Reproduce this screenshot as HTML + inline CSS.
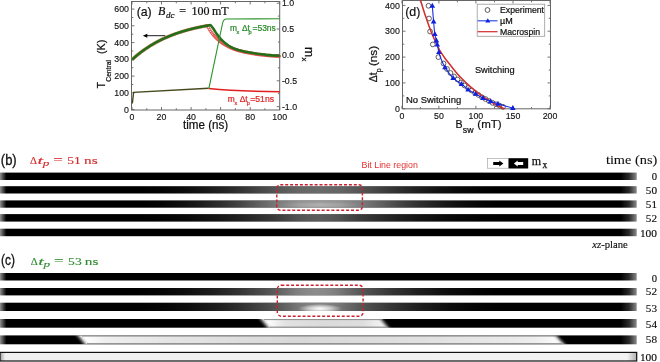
<!DOCTYPE html>
<html><head><meta charset="utf-8"><style>
html,body{margin:0;padding:0;background:#fff;width:660px;height:362px;overflow:hidden}
svg{display:block}
svg{fill:#111}
text{font-family:"Liberation Sans",sans-serif}
.tl{font-size:8.8px}
.at{font-size:12px}
.sm{font-size:8.2px}
.ser{font-family:"Liberation Serif",serif}
</style></head><body>
<svg width="660" height="362" viewBox="0 0 660 362"><g opacity="0.999">
<defs><linearGradient id="gb" gradientUnits="userSpaceOnUse" x1="0" y1="0" x2="636.7" y2="0"><stop offset="0" stop-color="#909090"/><stop offset="0.004" stop-color="#555"/><stop offset="0.01" stop-color="#000"/><stop offset="0.975" stop-color="#000"/><stop offset="0.988" stop-color="#2a2a2a"/><stop offset="1" stop-color="#8a8a8a"/></linearGradient><linearGradient id="b2" gradientUnits="userSpaceOnUse" x1="138" y1="0" x2="498" y2="0"><stop offset="0.0000" stop-color="#fff" stop-opacity="0.000"/><stop offset="0.0556" stop-color="#fff" stop-opacity="0.013"/><stop offset="0.1111" stop-color="#fff" stop-opacity="0.038"/><stop offset="0.1667" stop-color="#fff" stop-opacity="0.076"/><stop offset="0.2222" stop-color="#fff" stop-opacity="0.126"/><stop offset="0.2778" stop-color="#fff" stop-opacity="0.189"/><stop offset="0.3333" stop-color="#fff" stop-opacity="0.269"/><stop offset="0.3889" stop-color="#fff" stop-opacity="0.344"/><stop offset="0.4444" stop-color="#fff" stop-opacity="0.399"/><stop offset="0.5000" stop-color="#fff" stop-opacity="0.420"/><stop offset="0.5556" stop-color="#fff" stop-opacity="0.399"/><stop offset="0.6111" stop-color="#fff" stop-opacity="0.344"/><stop offset="0.6667" stop-color="#fff" stop-opacity="0.269"/><stop offset="0.7222" stop-color="#fff" stop-opacity="0.189"/><stop offset="0.7778" stop-color="#fff" stop-opacity="0.126"/><stop offset="0.8333" stop-color="#fff" stop-opacity="0.076"/><stop offset="0.8889" stop-color="#fff" stop-opacity="0.038"/><stop offset="0.9444" stop-color="#fff" stop-opacity="0.013"/><stop offset="1.0000" stop-color="#fff" stop-opacity="0.000"/></linearGradient><linearGradient id="b3" gradientUnits="userSpaceOnUse" x1="140" y1="0" x2="500" y2="0"><stop offset="0.0000" stop-color="#fff" stop-opacity="0.000"/><stop offset="0.0556" stop-color="#fff" stop-opacity="0.018"/><stop offset="0.1111" stop-color="#fff" stop-opacity="0.054"/><stop offset="0.1667" stop-color="#fff" stop-opacity="0.108"/><stop offset="0.2222" stop-color="#fff" stop-opacity="0.180"/><stop offset="0.2778" stop-color="#fff" stop-opacity="0.270"/><stop offset="0.3333" stop-color="#fff" stop-opacity="0.384"/><stop offset="0.3889" stop-color="#fff" stop-opacity="0.492"/><stop offset="0.4444" stop-color="#fff" stop-opacity="0.570"/><stop offset="0.5000" stop-color="#fff" stop-opacity="0.600"/><stop offset="0.5556" stop-color="#fff" stop-opacity="0.570"/><stop offset="0.6111" stop-color="#fff" stop-opacity="0.492"/><stop offset="0.6667" stop-color="#fff" stop-opacity="0.384"/><stop offset="0.7222" stop-color="#fff" stop-opacity="0.270"/><stop offset="0.7778" stop-color="#fff" stop-opacity="0.180"/><stop offset="0.8333" stop-color="#fff" stop-opacity="0.108"/><stop offset="0.8889" stop-color="#fff" stop-opacity="0.054"/><stop offset="0.9444" stop-color="#fff" stop-opacity="0.018"/><stop offset="1.0000" stop-color="#fff" stop-opacity="0.000"/></linearGradient><radialGradient id="b3r" cx="0.5" cy="0.5" r="0.5"><stop offset="0" stop-color="#fff" stop-opacity="0.25"/><stop offset="1" stop-color="#fff" stop-opacity="0"/></radialGradient><linearGradient id="b4" gradientUnits="userSpaceOnUse" x1="133" y1="0" x2="503" y2="0"><stop offset="0.0000" stop-color="#fff" stop-opacity="0.000"/><stop offset="0.0676" stop-color="#fff" stop-opacity="0.011"/><stop offset="0.1486" stop-color="#fff" stop-opacity="0.036"/><stop offset="0.2297" stop-color="#fff" stop-opacity="0.083"/><stop offset="0.2973" stop-color="#fff" stop-opacity="0.137"/><stop offset="0.3378" stop-color="#fff" stop-opacity="0.180"/><stop offset="0.3784" stop-color="#fff" stop-opacity="0.223"/><stop offset="0.4189" stop-color="#fff" stop-opacity="0.281"/><stop offset="0.4459" stop-color="#fff" stop-opacity="0.324"/><stop offset="0.4730" stop-color="#fff" stop-opacity="0.349"/><stop offset="0.5000" stop-color="#fff" stop-opacity="0.360"/><stop offset="0.5270" stop-color="#fff" stop-opacity="0.349"/><stop offset="0.5541" stop-color="#fff" stop-opacity="0.324"/><stop offset="0.5811" stop-color="#fff" stop-opacity="0.281"/><stop offset="0.6216" stop-color="#fff" stop-opacity="0.223"/><stop offset="0.6622" stop-color="#fff" stop-opacity="0.180"/><stop offset="0.7027" stop-color="#fff" stop-opacity="0.137"/><stop offset="0.7703" stop-color="#fff" stop-opacity="0.083"/><stop offset="0.8514" stop-color="#fff" stop-opacity="0.036"/><stop offset="0.9324" stop-color="#fff" stop-opacity="0.011"/><stop offset="1.0000" stop-color="#fff" stop-opacity="0.000"/></linearGradient><linearGradient id="c2" gradientUnits="userSpaceOnUse" x1="131" y1="0" x2="501" y2="0"><stop offset="0.0000" stop-color="#fff" stop-opacity="0.000"/><stop offset="0.0676" stop-color="#fff" stop-opacity="0.017"/><stop offset="0.1486" stop-color="#fff" stop-opacity="0.055"/><stop offset="0.2297" stop-color="#fff" stop-opacity="0.127"/><stop offset="0.2973" stop-color="#fff" stop-opacity="0.209"/><stop offset="0.3378" stop-color="#fff" stop-opacity="0.275"/><stop offset="0.3784" stop-color="#fff" stop-opacity="0.341"/><stop offset="0.4189" stop-color="#fff" stop-opacity="0.429"/><stop offset="0.4459" stop-color="#fff" stop-opacity="0.495"/><stop offset="0.4730" stop-color="#fff" stop-opacity="0.533"/><stop offset="0.5000" stop-color="#fff" stop-opacity="0.550"/><stop offset="0.5270" stop-color="#fff" stop-opacity="0.533"/><stop offset="0.5541" stop-color="#fff" stop-opacity="0.495"/><stop offset="0.5811" stop-color="#fff" stop-opacity="0.429"/><stop offset="0.6216" stop-color="#fff" stop-opacity="0.341"/><stop offset="0.6622" stop-color="#fff" stop-opacity="0.275"/><stop offset="0.7027" stop-color="#fff" stop-opacity="0.209"/><stop offset="0.7703" stop-color="#fff" stop-opacity="0.127"/><stop offset="0.8514" stop-color="#fff" stop-opacity="0.055"/><stop offset="0.9324" stop-color="#fff" stop-opacity="0.017"/><stop offset="1.0000" stop-color="#fff" stop-opacity="0.000"/></linearGradient><linearGradient id="c3" gradientUnits="userSpaceOnUse" x1="134" y1="0" x2="504" y2="0"><stop offset="0.0000" stop-color="#fff" stop-opacity="0.000"/><stop offset="0.0676" stop-color="#fff" stop-opacity="0.016"/><stop offset="0.1486" stop-color="#fff" stop-opacity="0.052"/><stop offset="0.2297" stop-color="#fff" stop-opacity="0.120"/><stop offset="0.2973" stop-color="#fff" stop-opacity="0.198"/><stop offset="0.3378" stop-color="#fff" stop-opacity="0.260"/><stop offset="0.3784" stop-color="#fff" stop-opacity="0.322"/><stop offset="0.4189" stop-color="#fff" stop-opacity="0.406"/><stop offset="0.4459" stop-color="#fff" stop-opacity="0.468"/><stop offset="0.4730" stop-color="#fff" stop-opacity="0.504"/><stop offset="0.5000" stop-color="#fff" stop-opacity="0.520"/><stop offset="0.5270" stop-color="#fff" stop-opacity="0.504"/><stop offset="0.5541" stop-color="#fff" stop-opacity="0.468"/><stop offset="0.5811" stop-color="#fff" stop-opacity="0.406"/><stop offset="0.6216" stop-color="#fff" stop-opacity="0.322"/><stop offset="0.6622" stop-color="#fff" stop-opacity="0.260"/><stop offset="0.7027" stop-color="#fff" stop-opacity="0.198"/><stop offset="0.7703" stop-color="#fff" stop-opacity="0.120"/><stop offset="0.8514" stop-color="#fff" stop-opacity="0.052"/><stop offset="0.9324" stop-color="#fff" stop-opacity="0.016"/><stop offset="1.0000" stop-color="#fff" stop-opacity="0.000"/></linearGradient><radialGradient id="c3r" cx="0.5" cy="0.5" r="0.5"><stop offset="0" stop-color="#fff" stop-opacity="1"/><stop offset="0.5" stop-color="#fff" stop-opacity="0.6"/><stop offset="1" stop-color="#fff" stop-opacity="0"/></radialGradient><filter id="bl" x="-0.1" y="-0.5" width="1.2" height="2"><feGaussianBlur stdDeviation="2.2 0.3"/></filter><filter id="bl2" x="-0.1" y="-0.5" width="1.2" height="2"><feGaussianBlur stdDeviation="0.5"/></filter><linearGradient id="g54" gradientUnits="userSpaceOnUse" x1="258" y1="0" x2="390" y2="0"><stop offset="0" stop-color="#fff"/><stop offset="0.1" stop-color="#fafafa"/><stop offset="0.2" stop-color="#e2e2e2"/><stop offset="0.5" stop-color="#dadada"/><stop offset="0.8" stop-color="#dedede"/><stop offset="0.93" stop-color="#f2f2f2"/><stop offset="1" stop-color="#fff"/></linearGradient><linearGradient id="g58" gradientUnits="userSpaceOnUse" x1="76" y1="0" x2="566" y2="0"><stop offset="0" stop-color="#fff"/><stop offset="0.03" stop-color="#fafafa"/><stop offset="0.06" stop-color="#eeeeee"/><stop offset="0.2" stop-color="#e4e4e4"/><stop offset="0.45" stop-color="#d8d8d8"/><stop offset="0.75" stop-color="#e2e2e2"/><stop offset="0.93" stop-color="#ececec"/><stop offset="0.98" stop-color="#fafafa"/><stop offset="1" stop-color="#fff"/></linearGradient><linearGradient id="g100" gradientUnits="userSpaceOnUse" x1="0" y1="0" x2="636.7" y2="0"><stop offset="0" stop-color="#a0a0a0"/><stop offset="0.008" stop-color="#f0f0f0"/><stop offset="0.985" stop-color="#f2f2f2"/><stop offset="1" stop-color="#b0b0b0"/></linearGradient></defs>
<rect x="131.5" y="1.5" width="148.2" height="108.5" fill="none" stroke="#666" stroke-width="1"/>
<path d="M132.0 110.0v-3M132.0 1.5v3M146.8 110.0v-1.8M146.8 1.5v1.8M161.5 110.0v-3M161.5 1.5v3M176.3 110.0v-1.8M176.3 1.5v1.8M191.1 110.0v-3M191.1 1.5v3M205.9 110.0v-1.8M205.9 1.5v1.8M220.6 110.0v-3M220.6 1.5v3M235.4 110.0v-1.8M235.4 1.5v1.8M250.2 110.0v-3M250.2 1.5v3M264.9 110.0v-1.8M264.9 1.5v1.8M279.7 110.0v-3M279.7 1.5v3M131.5 109.6h3M131.5 101.2h1.8M131.5 92.8h3M131.5 84.5h1.8M131.5 76.1h3M131.5 67.7h1.8M131.5 59.3h3M131.5 51.0h1.8M131.5 42.6h3M131.5 34.2h1.8M131.5 25.8h3M131.5 17.5h1.8M131.5 9.1h3M279.7 106.6h-3M279.7 93.7h-1.8M279.7 80.8h-3M279.7 67.8h-1.8M279.7 54.9h-3M279.7 42.0h-1.8M279.7 29.0h-3M279.7 16.1h-1.8M279.7 3.2h-3" stroke="#666" stroke-width="0.9" fill="none"/>
<text stroke="#111" stroke-width="0.14" x="129" y="112.7" text-anchor="end" class="tl">0</text>
<text stroke="#111" stroke-width="0.14" x="129" y="95.9" text-anchor="end" class="tl">100</text>
<text stroke="#111" stroke-width="0.14" x="129" y="79.2" text-anchor="end" class="tl">200</text>
<text stroke="#111" stroke-width="0.14" x="129" y="62.4" text-anchor="end" class="tl">300</text>
<text stroke="#111" stroke-width="0.14" x="129" y="45.7" text-anchor="end" class="tl">400</text>
<text stroke="#111" stroke-width="0.14" x="129" y="28.9" text-anchor="end" class="tl">500</text>
<text stroke="#111" stroke-width="0.14" x="129" y="12.2" text-anchor="end" class="tl">600</text>
<text stroke="#111" stroke-width="0.14" x="132.0" y="119.5" text-anchor="middle" class="tl">0</text>
<text stroke="#111" stroke-width="0.14" x="161.5" y="119.5" text-anchor="middle" class="tl">20</text>
<text stroke="#111" stroke-width="0.14" x="191.1" y="119.5" text-anchor="middle" class="tl">40</text>
<text stroke="#111" stroke-width="0.14" x="220.6" y="119.5" text-anchor="middle" class="tl">60</text>
<text stroke="#111" stroke-width="0.14" x="250.2" y="119.5" text-anchor="middle" class="tl">80</text>
<text stroke="#111" stroke-width="0.14" x="279.7" y="119.5" text-anchor="middle" class="tl">100</text>
<text stroke="#111" stroke-width="0.14" x="281.9" y="6.3" class="tl">1.0</text>
<text stroke="#111" stroke-width="0.14" x="281.9" y="32.1" class="tl">0.5</text>
<text stroke="#111" stroke-width="0.14" x="281.9" y="58.0" class="tl">0.0</text>
<text stroke="#111" stroke-width="0.14" x="281.9" y="83.8" class="tl">-0.5</text>
<text stroke="#111" stroke-width="0.14" x="281.9" y="109.7" class="tl">-1.0</text>
<text stroke="#111" stroke-width="0.22" x="182.9" y="129.3" class="at" textLength="45.3" lengthAdjust="spacingAndGlyphs">time (ns)</text>
<text stroke="#111" stroke-width="0.22" transform="translate(105.2,88.6) rotate(-90)" font-size="10.8">T<tspan font-size="7.3" dy="5.7" x="6.9" textLength="21.6" lengthAdjust="spacingAndGlyphs">Central</tspan><tspan dy="-5.7" x="34.5">(K)</tspan></text>
<text transform="translate(304.8,47.0) rotate(90)" font-size="12.2" stroke="#111" stroke-width="0.25">m<tspan font-size="7.8" dy="3" x="10.6">x</tspan></text>
<path d="M132.00 59.68 L132.74 59.01 L133.48 58.35 L134.22 57.69 L134.95 57.05 L135.69 56.41 L136.43 55.79 L137.17 55.18 L137.91 54.58 L138.65 53.98 L139.38 53.40 L140.12 52.82 L140.86 52.26 L141.60 51.70 L142.34 51.15 L143.08 50.61 L143.82 50.08 L144.55 49.56 L145.29 49.05 L146.03 48.54 L146.77 48.05 L147.51 47.56 L148.25 47.08 L148.99 46.60 L149.72 46.14 L150.46 45.68 L151.20 45.23 L151.94 44.78 L152.68 44.35 L153.42 43.92 L154.16 43.49 L154.89 43.08 L155.63 42.67 L156.37 42.26 L157.11 41.87 L157.85 41.48 L158.59 41.09 L159.32 40.72 L160.06 40.34 L160.80 39.98 L161.54 39.62 L162.28 39.26 L163.02 38.91 L163.76 38.57 L164.49 38.23 L165.23 37.90 L165.97 37.58 L166.71 37.25 L167.45 36.94 L168.19 36.63 L168.93 36.32 L169.66 36.02 L170.40 35.72 L171.14 35.43 L171.88 35.14 L172.62 34.86 L173.36 34.58 L174.09 34.31 L174.83 34.04 L175.57 33.77 L176.31 33.51 L177.05 33.26 L177.79 33.00 L178.53 32.75 L179.26 32.51 L180.00 32.27 L180.74 32.03 L181.48 31.80 L182.22 31.57 L182.96 31.35 L183.69 31.12 L184.43 30.91 L185.17 30.69 L185.91 30.48 L186.65 30.27 L187.39 30.07 L188.13 29.86 L188.86 29.67 L189.60 29.47 L190.34 29.28 L191.08 29.09 L191.82 28.90 L192.56 28.72 L193.30 28.54 L194.03 28.36 L194.77 28.19 L195.51 28.02 L196.25 27.85 L196.99 27.68 L197.73 27.52 L198.47 27.36 L199.20 27.20 L199.94 27.05 L200.68 26.89 L201.42 26.74 L202.16 26.59 L202.90 26.45 L203.63 26.30 L204.37 26.16 L205.11 26.02 L205.85 25.89 L206.59 25.75 L207.33 25.62" stroke="#e0806a" stroke-width="3.4" fill="none" stroke-linejoin="round"/>
<g fill="none" stroke="#e03a36" stroke-width="0.8"><circle cx="207.33" cy="25.85" r="1.3"/><circle cx="208.43" cy="27.73" r="1.3"/><circle cx="209.54" cy="29.62" r="1.3"/><circle cx="210.65" cy="31.38" r="1.3"/><circle cx="211.76" cy="32.88" r="1.3"/><circle cx="212.87" cy="34.39" r="1.3"/><circle cx="213.97" cy="35.66" r="1.3"/><circle cx="215.08" cy="36.81" r="1.3"/><circle cx="216.19" cy="37.95" r="1.3"/><circle cx="217.30" cy="39.00" r="1.3"/><circle cx="218.40" cy="39.98" r="1.3"/><circle cx="219.51" cy="40.95" r="1.3"/><circle cx="220.62" cy="41.93" r="1.3"/><circle cx="221.73" cy="42.65" r="1.3"/><circle cx="222.84" cy="43.37" r="1.3"/><circle cx="223.94" cy="44.08" r="1.3"/><circle cx="225.05" cy="44.77" r="1.3"/><circle cx="226.16" cy="45.38" r="1.3"/><circle cx="227.27" cy="45.98" r="1.3"/><circle cx="228.37" cy="46.59" r="1.3"/><circle cx="229.48" cy="47.12" r="1.3"/><circle cx="230.59" cy="47.62" r="1.3"/><circle cx="231.70" cy="48.13" r="1.3"/><circle cx="232.81" cy="48.63" r="1.3"/><circle cx="233.91" cy="49.04" r="1.3"/><circle cx="235.02" cy="49.40" r="1.3"/><circle cx="236.13" cy="49.75" r="1.3"/><circle cx="237.24" cy="50.11" r="1.3"/><circle cx="238.34" cy="50.47" r="1.3"/><circle cx="239.45" cy="50.76" r="1.3"/><circle cx="240.56" cy="51.04" r="1.3"/><circle cx="241.67" cy="51.32" r="1.3"/><circle cx="242.78" cy="51.60" r="1.3"/><circle cx="243.88" cy="51.89" r="1.3"/><circle cx="244.99" cy="52.12" r="1.3"/><circle cx="246.10" cy="52.32" r="1.3"/><circle cx="247.21" cy="52.52" r="1.3"/><circle cx="248.31" cy="52.73" r="1.3"/><circle cx="249.42" cy="52.93" r="1.3"/><circle cx="250.53" cy="53.12" r="1.3"/><circle cx="251.64" cy="53.31" r="1.3"/><circle cx="252.74" cy="53.50" r="1.3"/><circle cx="253.85" cy="53.69" r="1.3"/><circle cx="254.96" cy="53.88" r="1.3"/><circle cx="256.07" cy="54.07" r="1.3"/><circle cx="257.18" cy="54.26" r="1.3"/><circle cx="258.28" cy="54.41" r="1.3"/><circle cx="259.39" cy="54.54" r="1.3"/><circle cx="260.50" cy="54.67" r="1.3"/><circle cx="261.61" cy="54.79" r="1.3"/><circle cx="262.71" cy="54.92" r="1.3"/><circle cx="263.82" cy="55.05" r="1.3"/><circle cx="264.93" cy="55.18" r="1.3"/><circle cx="266.04" cy="55.30" r="1.3"/><circle cx="267.15" cy="55.40" r="1.3"/><circle cx="268.25" cy="55.50" r="1.3"/><circle cx="269.36" cy="55.59" r="1.3"/><circle cx="270.47" cy="55.68" r="1.3"/><circle cx="271.58" cy="55.77" r="1.3"/><circle cx="272.68" cy="55.85" r="1.3"/><circle cx="273.79" cy="55.92" r="1.3"/><circle cx="274.90" cy="55.98" r="1.3"/><circle cx="276.01" cy="56.04" r="1.3"/><circle cx="277.12" cy="56.10" r="1.3"/><circle cx="278.22" cy="56.17" r="1.3"/><circle cx="279.33" cy="56.23" r="1.3"/></g>
<path d="M132.00 59.68 L132.74 59.01 L133.48 58.35 L134.22 57.69 L134.95 57.05 L135.69 56.41 L136.43 55.79 L137.17 55.18 L137.91 54.58 L138.65 53.98 L139.38 53.40 L140.12 52.82 L140.86 52.26 L141.60 51.70 L142.34 51.15 L143.08 50.61 L143.82 50.08 L144.55 49.56 L145.29 49.05 L146.03 48.54 L146.77 48.05 L147.51 47.56 L148.25 47.08 L148.99 46.60 L149.72 46.14 L150.46 45.68 L151.20 45.23 L151.94 44.78 L152.68 44.35 L153.42 43.92 L154.16 43.49 L154.89 43.08 L155.63 42.67 L156.37 42.26 L157.11 41.87 L157.85 41.48 L158.59 41.09 L159.32 40.72 L160.06 40.34 L160.80 39.98 L161.54 39.62 L162.28 39.26 L163.02 38.91 L163.76 38.57 L164.49 38.23 L165.23 37.90 L165.97 37.58 L166.71 37.25 L167.45 36.94 L168.19 36.63 L168.93 36.32 L169.66 36.02 L170.40 35.72 L171.14 35.43 L171.88 35.14 L172.62 34.86 L173.36 34.58 L174.09 34.31 L174.83 34.04 L175.57 33.77 L176.31 33.51 L177.05 33.26 L177.79 33.00 L178.53 32.75 L179.26 32.51 L180.00 32.27 L180.74 32.03 L181.48 31.80 L182.22 31.57 L182.96 31.35 L183.69 31.12 L184.43 30.91 L185.17 30.69 L185.91 30.48 L186.65 30.27 L187.39 30.07 L188.13 29.86 L188.86 29.67 L189.60 29.47 L190.34 29.28 L191.08 29.09 L191.82 28.90 L192.56 28.72 L193.30 28.54 L194.03 28.36 L194.77 28.19 L195.51 28.02 L196.25 27.85 L196.99 27.68 L197.73 27.52 L198.47 27.36 L199.20 27.20 L199.94 27.05 L200.68 26.89 L201.42 26.74 L202.16 26.59 L202.90 26.45 L203.63 26.30 L204.37 26.16 L205.11 26.02 L205.85 25.89 L206.59 25.75 L207.33 25.62 L208.07 25.49 L208.80 25.36 L209.54 25.24 L210.28 25.11 L210.72 25.18 L213.24 28.53 L216.63 33.89 L220.62 38.91 L224.76 42.93 L228.74 45.78 L233.17 48.13 L238.34 49.97 L244.25 51.48 L249.72 52.48 L257.55 53.82 L266.26 54.83 L272.31 55.33 L279.70 55.75" stroke="#24701a" stroke-width="2.6" fill="none" stroke-linejoin="round"/>
<path d="M132.3 103.5 L133.6 92.4 L208.7 88.3" stroke="#44481a" stroke-width="1.4" fill="none"/>
<path d="M208.7 88.4 C230 90.5 250 91.4 280 91.7" stroke="#e02020" stroke-width="1.5" fill="none"/>
<path d="M208.9 88.4 L222.1 25.5 Q223 19.1 226 19 L280 18.7" stroke="#2e962e" stroke-width="1.15" fill="none"/>
<path d="M146.5 35.7H165.3" stroke="#000" stroke-width="0.9"/><path d="M142.8 35.7L147.3 33.7V37.7Z" fill="#000"/>
<text stroke="#111" stroke-width="0.22" x="136.7" y="15.5" font-size="13.3" textLength="15" lengthAdjust="spacingAndGlyphs">(a)</text>
<text stroke="#111" stroke-width="0.22" x="158.1" y="15" class="ser" font-size="12"><tspan font-style="italic">B</tspan><tspan font-style="italic" font-size="9" dy="2.6" x="166">dc</tspan><tspan dy="-2.6" x="179.2">=</tspan><tspan x="191.5">100</tspan><tspan x="211.9">mT</tspan></text>
<text stroke="#2a8a2a" stroke-width="0.22" x="230" y="30.5" font-size="8.4" fill="#2a8a2a">m<tspan font-size="5.5" dy="3" x="236.6">x</tspan><tspan dy="-3" x="242">&#916;t</tspan><tspan font-size="5.5" dy="3" x="248.6">p</tspan><tspan dy="-3" x="252.5" textLength="23.3" lengthAdjust="spacingAndGlyphs">=53ns</tspan></text>
<text stroke="#e02828" stroke-width="0.22" x="227.8" y="101.9" font-size="8.4" fill="#e02828">m<tspan font-size="5.5" dy="3" x="234.4">x</tspan><tspan dy="-3" x="239.7">&#916;t</tspan><tspan font-size="5.5" dy="3" x="246.7">p</tspan><tspan dy="-3" x="250.3" textLength="23.7" lengthAdjust="spacingAndGlyphs">=51ns</tspan></text>
<rect x="402.5" y="0.5" width="148.0" height="108.3" fill="none" stroke="#666" stroke-width="1"/>
<path d="M401.9 108.8v-3M401.9 0.5v3M420.4 108.8v-1.8M420.4 0.5v1.8M438.9 108.8v-3M438.9 0.5v3M457.4 108.8v-1.8M457.4 0.5v1.8M475.9 108.8v-3M475.9 0.5v3M494.5 108.8v-1.8M494.5 0.5v1.8M513.0 108.8v-3M513.0 0.5v3M531.5 108.8v-1.8M531.5 0.5v1.8M550.0 108.8v-3M550.0 0.5v3M402.5 108.8h3M550.5 108.8h-3M402.5 95.9h1.8M550.5 95.9h-1.8M402.5 82.9h3M550.5 82.9h-3M402.5 70.0h1.8M550.5 70.0h-1.8M402.5 57.1h3M550.5 57.1h-3M402.5 44.2h1.8M550.5 44.2h-1.8M402.5 31.2h3M550.5 31.2h-3M402.5 18.3h1.8M550.5 18.3h-1.8M402.5 5.4h3M550.5 5.4h-3" stroke="#666" stroke-width="0.9" fill="none"/>
<text stroke="#111" stroke-width="0.14" x="399.8" y="111.9" text-anchor="end" class="tl">0</text>
<text stroke="#111" stroke-width="0.14" x="399.8" y="86.0" text-anchor="end" class="tl">100</text>
<text stroke="#111" stroke-width="0.14" x="399.8" y="60.2" text-anchor="end" class="tl">200</text>
<text stroke="#111" stroke-width="0.14" x="399.8" y="34.4" text-anchor="end" class="tl">300</text>
<text stroke="#111" stroke-width="0.14" x="399.8" y="8.5" text-anchor="end" class="tl">400</text>
<text stroke="#111" stroke-width="0.14" x="401.9" y="118.6" text-anchor="middle" class="tl">0</text>
<text stroke="#111" stroke-width="0.14" x="438.9" y="118.6" text-anchor="middle" class="tl">50</text>
<text stroke="#111" stroke-width="0.14" x="475.9" y="118.6" text-anchor="middle" class="tl">100</text>
<text stroke="#111" stroke-width="0.14" x="513.0" y="118.6" text-anchor="middle" class="tl">150</text>
<text stroke="#111" stroke-width="0.14" x="550.0" y="118.6" text-anchor="middle" class="tl">200</text>
<text stroke="#111" stroke-width="0.22" x="455.6" y="128.3" font-size="10.6">B<tspan font-size="8.6" dy="4.7" x="462.8" textLength="10.7" lengthAdjust="spacingAndGlyphs">sw</tspan><tspan dy="-4.7" x="477.3" font-size="11.6" textLength="24.3" lengthAdjust="spacingAndGlyphs">(mT)</tspan></text>
<text stroke="#111" stroke-width="0.22" transform="translate(376.5,82.3) rotate(-90)" font-size="10.5">&#916;t<tspan font-size="7" dy="4" x="10">p</tspan><tspan dy="-4" x="16.2" font-size="11.3" textLength="20.3" lengthAdjust="spacingAndGlyphs">(ns)</tspan></text>
<text stroke="#111" stroke-width="0.22" x="405.2" y="15.9" font-size="13.5" textLength="15.2" lengthAdjust="spacingAndGlyphs">(d)</text>
<text stroke="#111" stroke-width="0.22" x="405.9" y="103.4" font-size="9.9" textLength="55.3" lengthAdjust="spacingAndGlyphs">No Switching</text>
<text stroke="#111" stroke-width="0.22" x="474.9" y="72.5" font-size="9.9" textLength="39.8" lengthAdjust="spacingAndGlyphs">Switching</text>
<circle cx="428.5" cy="5.8" r="2.4" fill="none" stroke="#3a3a3a" stroke-width="0.8"/>
<circle cx="429" cy="18.5" r="2.4" fill="none" stroke="#3a3a3a" stroke-width="0.8"/>
<circle cx="430.1" cy="31.5" r="2.4" fill="none" stroke="#3a3a3a" stroke-width="0.8"/>
<circle cx="432.8" cy="44.4" r="2.4" fill="none" stroke="#3a3a3a" stroke-width="0.8"/>
<circle cx="438.4" cy="57.1" r="2.4" fill="none" stroke="#3a3a3a" stroke-width="0.8"/>
<circle cx="443.5" cy="63.5" r="2.4" fill="none" stroke="#3a3a3a" stroke-width="0.8"/>
<circle cx="447" cy="69" r="2.4" fill="none" stroke="#3a3a3a" stroke-width="0.8"/>
<circle cx="450.5" cy="73" r="2.4" fill="none" stroke="#3a3a3a" stroke-width="0.8"/>
<circle cx="454" cy="76.5" r="2.4" fill="none" stroke="#3a3a3a" stroke-width="0.8"/>
<circle cx="457.5" cy="79.5" r="2.4" fill="none" stroke="#3a3a3a" stroke-width="0.8"/>
<circle cx="461" cy="82.5" r="2.4" fill="none" stroke="#3a3a3a" stroke-width="0.8"/>
<circle cx="464.5" cy="85.5" r="2.4" fill="none" stroke="#3a3a3a" stroke-width="0.8"/>
<circle cx="468" cy="88" r="2.4" fill="none" stroke="#3a3a3a" stroke-width="0.8"/>
<circle cx="471.5" cy="90.5" r="2.4" fill="none" stroke="#3a3a3a" stroke-width="0.8"/>
<circle cx="475" cy="93" r="2.4" fill="none" stroke="#3a3a3a" stroke-width="0.8"/>
<circle cx="478.5" cy="95" r="2.4" fill="none" stroke="#3a3a3a" stroke-width="0.8"/>
<circle cx="482" cy="97.2" r="2.4" fill="none" stroke="#3a3a3a" stroke-width="0.8"/>
<circle cx="485.5" cy="99" r="2.4" fill="none" stroke="#3a3a3a" stroke-width="0.8"/>
<circle cx="489" cy="101" r="2.4" fill="none" stroke="#3a3a3a" stroke-width="0.8"/>
<circle cx="492.5" cy="102.8" r="2.4" fill="none" stroke="#3a3a3a" stroke-width="0.8"/>
<circle cx="496" cy="104.3" r="2.4" fill="none" stroke="#3a3a3a" stroke-width="0.8"/>
<circle cx="499.5" cy="105.6" r="2.4" fill="none" stroke="#3a3a3a" stroke-width="0.8"/>
<circle cx="503" cy="106.8" r="2.4" fill="none" stroke="#3a3a3a" stroke-width="0.8"/>
<path d="M420.60 0.50 C421.45 3.18 423.87 11.18 425.70 16.60 C427.53 22.02 429.50 27.85 431.60 33.00 C433.70 38.15 436.65 44.13 438.30 47.50 C439.95 50.87 440.30 51.28 441.50 53.20 C442.70 55.12 444.17 57.20 445.50 59.00 C446.83 60.80 447.50 61.50 449.50 64.00 C451.50 66.50 454.82 70.95 457.50 74.00 C460.18 77.05 462.87 79.68 465.60 82.30 C468.33 84.92 471.13 87.42 473.90 89.70 C476.67 91.98 479.43 94.07 482.20 96.00 C484.97 97.93 487.77 99.63 490.50 101.30 C493.23 102.97 496.35 104.75 498.60 106.00 C500.85 107.25 503.10 108.33 504.00 108.80" stroke="#d42a2a" stroke-width="1.5" fill="none"/>
<path d="M432.30 5.80 C432.52 8.42 433.18 16.80 433.60 21.50 C434.02 26.20 434.33 30.82 434.80 34.00 C435.27 37.18 435.98 38.82 436.40 40.60 C436.82 42.38 436.88 42.77 437.30 44.70 C437.72 46.63 438.37 50.07 438.90 52.20 C439.43 54.33 439.48 54.97 440.50 57.50 C441.52 60.03 442.88 63.97 445.00 67.40 C447.12 70.83 450.45 75.33 453.20 78.10 C455.95 80.87 459.02 82.07 461.50 84.00 C463.98 85.93 465.75 88.05 468.10 89.70 C470.45 91.35 473.12 92.52 475.60 93.90 C478.08 95.28 480.52 96.77 483.00 98.00 C485.48 99.23 488.00 100.33 490.50 101.30 C493.00 102.27 495.58 103.02 498.00 103.80 C500.42 104.58 502.53 105.30 505.00 106.00 C507.47 106.70 511.50 107.67 512.80 108.00" stroke="#1a2ee0" stroke-width="1.1" fill="none"/>
<path d="M432.3 2.8L435.1 7.7L429.5 7.7Z" fill="#1020e0"/>
<path d="M433.6 18.5L436.4 23.4L430.8 23.4Z" fill="#1020e0"/>
<path d="M434.8 31.0L437.6 35.9L432.0 35.9Z" fill="#1020e0"/>
<path d="M436.4 37.6L439.2 42.5L433.6 42.5Z" fill="#1020e0"/>
<path d="M437.3 41.7L440.1 46.6L434.5 46.6Z" fill="#1020e0"/>
<path d="M438.9 49.2L441.7 54.1L436.1 54.1Z" fill="#1020e0"/>
<path d="M445.0 64.4L447.8 69.3L442.2 69.3Z" fill="#1020e0"/>
<path d="M453.2 75.1L456.0 80.0L450.4 80.0Z" fill="#1020e0"/>
<path d="M461.5 81.0L464.3 85.9L458.7 85.9Z" fill="#1020e0"/>
<path d="M468.1 86.7L470.9 91.6L465.3 91.6Z" fill="#1020e0"/>
<path d="M475.6 90.9L478.4 95.8L472.8 95.8Z" fill="#1020e0"/>
<path d="M483.0 95.0L485.8 99.9L480.2 99.9Z" fill="#1020e0"/>
<path d="M490.5 98.3L493.3 103.2L487.7 103.2Z" fill="#1020e0"/>
<path d="M498.0 100.8L500.8 105.7L495.2 105.7Z" fill="#1020e0"/>
<path d="M512.8 105.0L515.6 109.9L510.0 109.9Z" fill="#1020e0"/>
<rect x="477.2" y="4.2" width="67.5" height="32.1" fill="#fff" stroke="#999" stroke-width="0.8"/>
<circle cx="487.5" cy="10" r="2.4" fill="none" stroke="#333" stroke-width="0.8"/>
<path d="M477.6 20.8H497.5" stroke="#3050e8" stroke-width="1.2"/><path d="M487.8 18.2L490.3 22.4H485.3Z" fill="#1020e0"/>
<path d="M477.6 31.7H497.5" stroke="#d42a2a" stroke-width="1.2"/>
<text stroke="#111" stroke-width="0.22" x="500" y="13.3" class="lab" font-size="9" textLength="44" lengthAdjust="spacingAndGlyphs">Experiment</text>
<text stroke="#111" stroke-width="0.22" x="500" y="24.2" class="lab" font-size="9">&#181;M</text>
<text stroke="#111" stroke-width="0.22" x="500" y="35" class="lab" font-size="9" textLength="40" lengthAdjust="spacingAndGlyphs">Macrospin</text>
<rect x="0" y="172.6" width="636.7" height="7.4" fill="url(#gb)"/>
<rect x="0" y="186.2" width="636.7" height="7.3" fill="url(#gb)"/>
<rect x="0" y="200.4" width="636.7" height="7.3" fill="url(#gb)"/>
<rect x="0" y="214.1" width="636.7" height="7.5" fill="url(#gb)"/>
<rect x="0" y="228.7" width="636.7" height="7.5" fill="url(#gb)"/>
<rect x="138" y="186.2" width="360" height="7.3" fill="url(#b2)"/>
<rect x="140" y="200.4" width="360" height="7.3" fill="url(#b3)"/>
<ellipse cx="320" cy="204.9" rx="45" ry="3.5" fill="url(#b3r)"/>
<rect x="133" y="214.1" width="370" height="7.5" fill="url(#b4)"/>
<rect x="0" y="273.0" width="636.7" height="7.5" fill="url(#gb)"/>
<rect x="0" y="288.0" width="636.7" height="7.4" fill="url(#gb)"/>
<rect x="0" y="302.7" width="636.7" height="8.3" fill="url(#gb)"/>
<rect x="0" y="319.0" width="636.7" height="8.7" fill="url(#gb)"/>
<rect x="0" y="335.4" width="636.7" height="8.9" fill="url(#gb)"/>
<rect x="131" y="288.0" width="370" height="7.4" fill="url(#c2)"/>
<rect x="134" y="302.7" width="370" height="8.3" fill="url(#c3)"/>
<ellipse cx="320" cy="308.6" rx="22" ry="4.6" fill="url(#c3r)"/>
<path d="M261 319.0L381 319.0L388 327.7L268 327.7Z" fill="url(#g54)" filter="url(#bl)"/>
<path d="M264 319.6H382M270 327.09999999999997H386" stroke="#8a8a8a" stroke-width="1" filter="url(#bl2)"/>
<path d="M78 335.4L556 335.4L564 344.3L85 344.3Z" fill="url(#g58)" filter="url(#bl)"/>
<path d="M82 336.0H557M87 343.7H562" stroke="#808080" stroke-width="1" filter="url(#bl2)"/>
<rect x="0" y="352.4" width="636.7" height="8.6" fill="url(#g100)" stroke="#111" stroke-width="1.2"/>
<rect x="276.8" y="184.7" width="85.6" height="25.5" rx="3.5" fill="none" stroke="#cc2030" stroke-width="1.4" stroke-dasharray="3 1.9"/>
<rect x="277.3" y="285.2" width="85.8" height="31" rx="4" fill="none" stroke="#cc2030" stroke-width="1.4" stroke-dasharray="3 1.9"/>
<text x="0.8" y="164.5" font-size="14" fill="#111" stroke="#111" stroke-width="0.3" textLength="15.9" lengthAdjust="spacingAndGlyphs">(b)</text>
<text x="0.9" y="265.3" font-size="13.8" fill="#111" stroke="#111" stroke-width="0.3" textLength="14" lengthAdjust="spacingAndGlyphs">(c)</text>
<text y="163.5" class="ser" font-size="11" fill="#d42a2a" stroke="#d42a2a" stroke-width="0.12"><tspan x="30.0" font-size="10.8" textLength="7" lengthAdjust="spacingAndGlyphs">&#916;</tspan><tspan x="37.4" font-style="italic" font-size="11" textLength="5.6" lengthAdjust="spacingAndGlyphs">t</tspan><tspan x="42.7" dy="2.3" font-style="italic" font-size="9" textLength="6.6" lengthAdjust="spacingAndGlyphs">p</tspan><tspan x="53.2" dy="-2.3" font-size="12" textLength="9.6" lengthAdjust="spacingAndGlyphs">=</tspan><tspan x="67.30000000000001" textLength="13.6" lengthAdjust="spacingAndGlyphs">51</tspan><tspan x="84.0" textLength="13.6" lengthAdjust="spacingAndGlyphs">ns</tspan></text>
<text y="264.6" class="ser" font-size="11" fill="#2f8a2f" stroke="#2f8a2f" stroke-width="0.12"><tspan x="30.799999999999997" font-size="10.8" textLength="7" lengthAdjust="spacingAndGlyphs">&#916;</tspan><tspan x="38.199999999999996" font-style="italic" font-size="11" textLength="5.6" lengthAdjust="spacingAndGlyphs">t</tspan><tspan x="43.5" dy="2.3" font-style="italic" font-size="9" textLength="6.6" lengthAdjust="spacingAndGlyphs">p</tspan><tspan x="54.0" dy="-2.3" font-size="12" textLength="9.6" lengthAdjust="spacingAndGlyphs">=</tspan><tspan x="68.1" textLength="13.6" lengthAdjust="spacingAndGlyphs">53</tspan><tspan x="84.8" textLength="13.6" lengthAdjust="spacingAndGlyphs">ns</tspan></text>
<text x="361.5" y="167.7" font-size="8.8" fill="#e03030" textLength="56.4" lengthAdjust="spacingAndGlyphs">Bit Line region</text>
<text x="605.9" y="164.3" class="ser" font-size="13" fill="#111" stroke="#111" stroke-width="0.1" textLength="51.4" lengthAdjust="spacingAndGlyphs">time (ns)</text>
<text x="651.7" y="180.2" class="ser" font-size="10" fill="#111" stroke="#111" stroke-width="0.15" textLength="5.3" lengthAdjust="spacingAndGlyphs">0</text>
<text x="645.8" y="194.1" class="ser" font-size="10" fill="#111" stroke="#111" stroke-width="0.15" textLength="11.2" lengthAdjust="spacingAndGlyphs">50</text>
<text x="645.8" y="208" class="ser" font-size="10" fill="#111" stroke="#111" stroke-width="0.15" textLength="11.2" lengthAdjust="spacingAndGlyphs">51</text>
<text x="645.8" y="221.8" class="ser" font-size="10" fill="#111" stroke="#111" stroke-width="0.15" textLength="11.2" lengthAdjust="spacingAndGlyphs">52</text>
<text x="639.9" y="236.5" class="ser" font-size="10" fill="#111" stroke="#111" stroke-width="0.15" textLength="17.1" lengthAdjust="spacingAndGlyphs">100</text>
<text x="651.7" y="281.6" class="ser" font-size="10" fill="#111" stroke="#111" stroke-width="0.15" textLength="5.3" lengthAdjust="spacingAndGlyphs">0</text>
<text x="645.8" y="295.4" class="ser" font-size="10" fill="#111" stroke="#111" stroke-width="0.15" textLength="11.2" lengthAdjust="spacingAndGlyphs">52</text>
<text x="645.8" y="311.5" class="ser" font-size="10" fill="#111" stroke="#111" stroke-width="0.15" textLength="11.2" lengthAdjust="spacingAndGlyphs">53</text>
<text x="645.8" y="328" class="ser" font-size="10" fill="#111" stroke="#111" stroke-width="0.15" textLength="11.2" lengthAdjust="spacingAndGlyphs">54</text>
<text x="645.8" y="343.2" class="ser" font-size="10" fill="#111" stroke="#111" stroke-width="0.15" textLength="11.2" lengthAdjust="spacingAndGlyphs">58</text>
<text x="639.9" y="360.5" class="ser" font-size="10" fill="#111" stroke="#111" stroke-width="0.15" textLength="17.1" lengthAdjust="spacingAndGlyphs">100</text>
<text x="592.3" y="247.6" class="ser" font-size="10.4" fill="#111" stroke="#111" stroke-width="0.15" textLength="35.5" lengthAdjust="spacingAndGlyphs"><tspan font-style="italic">xz</tspan>-plane</text>
<rect x="487.3" y="158.5" width="21.3" height="9.7" fill="#fff" stroke="#999" stroke-width="0.6"/>
<rect x="508.6" y="158.2" width="19.6" height="10.3" fill="#000"/>
<path d="M493.2 162H499.3V160.6L503.4 163.5L499.3 166.4V165H493.2Z" fill="#000"/>
<path d="M523.2 162H517.7V160.6L513.9 163.5L517.7 166.4V165H523.2Z" fill="#fff"/>
<text x="531.8" y="165.2" class="ser" font-size="12" fill="#111" stroke="#111" stroke-width="0.25">m<tspan font-size="9.5" dy="2.5" x="542.6">x</tspan></text>
</g></svg>
</body></html>
